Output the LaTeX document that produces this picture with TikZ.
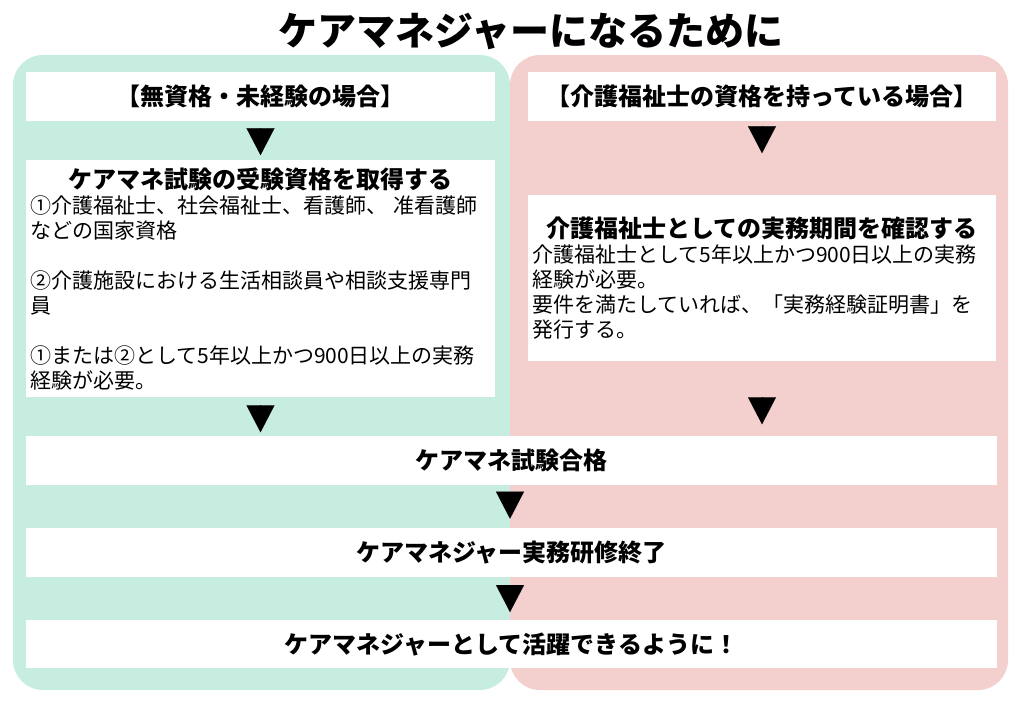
\documentclass[tikz,border=0pt]{standalone}
\usepackage{fontspec}
\setmainfont{Noto Sans CJK JP}
\usetikzlibrary{positioning,arrows.meta}
\definecolor{mintbg}{RGB}{199,237,225}
\definecolor{rosebg}{RGB}{243,208,205}
\tikzset{
  panel/.style={rounded corners=30pt},
  headbox/.style={fill=white, inner sep=0pt, minimum height=49pt,
    font=\bfseries\fontsize{24}{26}\selectfont},
  textbox/.style={fill=white, inner xsep=4pt, inner ysep=0pt, align=left,
    font=\fontsize{21}{25}\selectfont},
  barbox/.style={headbox, minimum width=971pt},
  tridown/.style={-{Triangle[length=27pt,width=28pt]}, line width=0.1pt},
}
\begin{document}
\begin{tikzpicture}[x=1pt,y=-1pt]
	\useasboundingbox (0,0) rectangle (1024,710);
	% title
	\node[font=\bfseries\fontsize{39}{41}\selectfont] (title) at (531,31) {ケアマネジャーになるために};
	% two coloured panels
	\fill[mintbg, panel] (13,55) rectangle (510,690);
	\fill[rosebg, panel] (510,55) rectangle (1008,690);
	\coordinate (mid) at (510,0);
	% left column
	\node[headbox, minimum width=469pt] (nolic) at (260.5,96.5) {【無資格・未経験の場合】};
	\node[textbox, text width=461pt, minimum height=237pt, below=39pt of nolic] (qualify) {%
		{\bfseries\fontsize{24}{26}\selectfont\centering ケアマネ試験の受験資格を取得する\par}
		①介護福祉士、社会福祉士、看護師、 准看護師\\
		などの国家資格\\[25pt]
		②介護施設における生活相談員や相談支援専門\\
		員\\[25pt]
		①または②として5年以上かつ900日以上の実務\\
		経験が必要。};
	% right column
	\node[headbox, minimum width=468pt] (carer) at (762,96.5) {【介護福祉士の資格を持っている場合】};
	\node[textbox, text width=460pt, minimum height=166pt, below=74pt of carer] (check) {%
		{\bfseries\fontsize{24}{26}\selectfont\centering 介護福祉士としての実務期間を確認する\par}
		介護福祉士として5年以上かつ900日以上の実務\\
		経験が必要。\\
		要件を満たしていれば、「実務経験証明書」を\\
		発行する。};
	% common steps
	\node[barbox] (pass) at (511.5,460) {ケアマネ試験合格};
	\node[barbox, below=43pt of pass] (train) {ケアマネジャー実務研修終了};
	\node[barbox, minimum height=48pt, below=43pt of train] (goal) {ケアマネジャーとして活躍できるように！};
	% triangles
	\draw[tridown, shorten <=7pt, shorten >=5pt] (nolic) -- (qualify);
	\draw[tridown, shorten <=6pt, shorten >=42pt] (carer) -- (check);
	\draw[tridown, shorten <=8pt, shorten >=3pt] (qualify.south) -- (qualify.south |- pass.north);
	\draw[tridown, shorten <=37pt, shorten >=11pt] (check.south) -- (check.south |- pass.north);
	\draw[tridown, shorten <=8pt, shorten >=9pt] (pass.south -| mid) -- (train.north -| mid);
	\draw[tridown, shorten <=8pt, shorten >=8pt] (train.south -| mid) -- (goal.north -| mid);
\end{tikzpicture}
\end{document}
